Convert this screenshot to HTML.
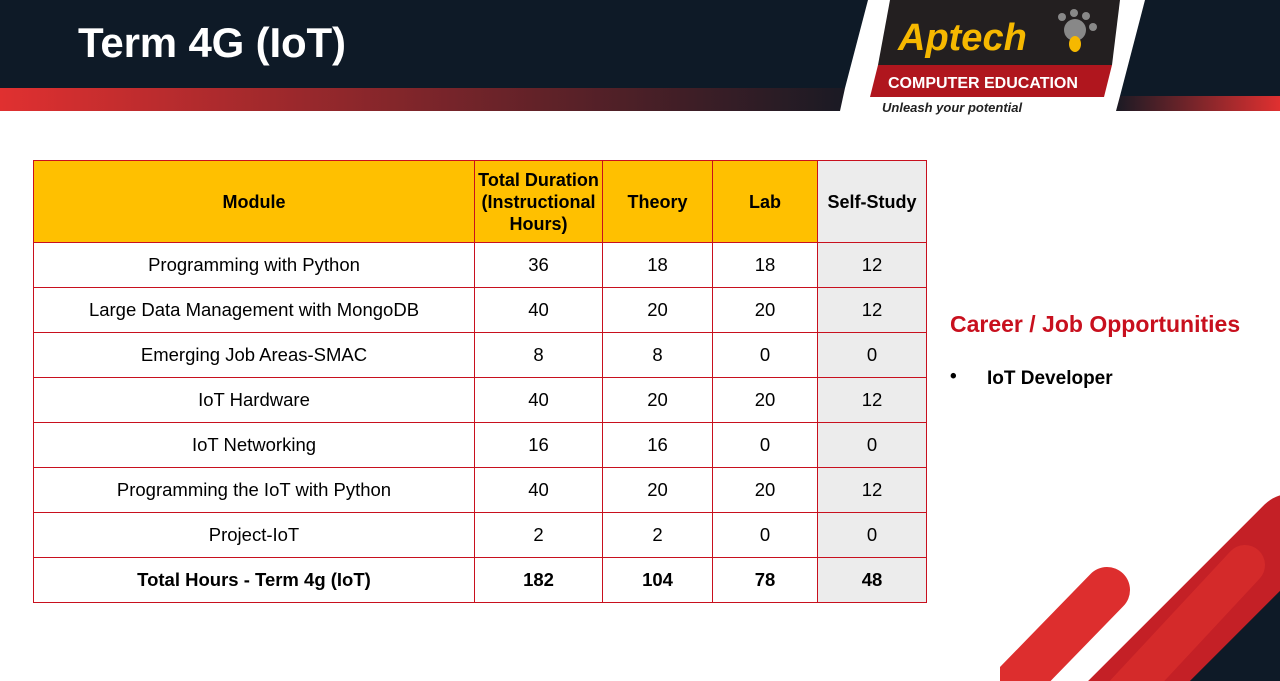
<!DOCTYPE html>
<html style="overflow:hidden"><head><meta charset="utf-8"><style>
html,body{margin:0;width:1280px;height:681px;overflow:hidden}
body{background:#fff;font-family:"Liberation Sans",sans-serif}
#wrap{position:relative;width:1280px;height:681px;overflow:hidden}
.abs{position:absolute}
svg{overflow:hidden;display:block}
table{position:absolute;left:33px;top:160px;border-collapse:collapse;font-size:18.5px;color:#000}
td,th{border:1px solid #c8101e;text-align:center;padding:0}
th{background:#ffc000;font-weight:bold;height:81px;line-height:22px;font-size:18px}
td{height:44px}
.ss{background:#ececec}
tr.tot td{font-weight:bold}
</style></head><body>
<div id="wrap">
<svg class="abs" style="left:0;top:0" width="1280" height="120">
<defs>
<linearGradient id="rg" x1="0" x2="1"><stop offset="0" stop-color="#e03030"/><stop offset="1" stop-color="#1a1a24"/></linearGradient>
<linearGradient id="rg2" x1="0" x2="1"><stop offset="0" stop-color="#1a1a24"/><stop offset="1" stop-color="#e03030"/></linearGradient>
</defs>
<polygon points="0,0 868,0 845,88 0,88" fill="#0e1a27"/>
<polygon points="0,88 845,88 840,111 0,111" fill="url(#rg)"/>
<polygon points="1145,0 1280,0 1280,96 1120,96" fill="#0e1a27"/>
<polygon points="1120,96 1280,96 1280,111 1116,111" fill="url(#rg2)"/>
<polygon points="890,0 1120,0 1112,65 878,65" fill="#231f20"/>
<polygon points="878,65 1112,65 1104,97 870,97" fill="#b0161e"/>
<text x="898" y="50" font-family="Liberation Sans" font-weight="bold" font-style="italic" font-size="38" fill="#f6b800">Aptech</text>
<circle cx="1075" cy="30" r="11" fill="#888"/><circle cx="1062" cy="17" r="4" fill="#888"/><circle cx="1074" cy="13" r="4" fill="#888"/><circle cx="1086" cy="16" r="4" fill="#888"/><circle cx="1093" cy="27" r="4" fill="#888"/>
<ellipse cx="1075" cy="44" rx="6" ry="8" fill="#f6b800"/>
<text x="888" y="88" font-family="Liberation Sans" font-weight="bold" font-size="16" fill="#fff">COMPUTER EDUCATION</text>
<text x="882" y="112" font-family="Liberation Sans" font-weight="bold" font-style="italic" font-size="13" fill="#222">Unleash your potential</text>
<text x="78" y="57" font-family="Liberation Sans" font-weight="bold" font-size="42" textLength="268" fill="#fff">Term 4G (IoT)</text>
</svg>
<table>
<tr><th style="width:440px">Module</th><th style="width:127px">Total Duration<br>(Instructional<br>Hours)</th><th style="width:109px">Theory</th><th style="width:104px">Lab</th><th class="ss" style="width:108px">Self-Study</th></tr>
<tr><td>Programming with Python</td><td>36</td><td>18</td><td>18</td><td class="ss">12</td></tr>
<tr><td>Large Data Management with MongoDB</td><td>40</td><td>20</td><td>20</td><td class="ss">12</td></tr>
<tr><td>Emerging Job Areas-SMAC</td><td>8</td><td>8</td><td>0</td><td class="ss">0</td></tr>
<tr><td>IoT Hardware</td><td>40</td><td>20</td><td>20</td><td class="ss">12</td></tr>
<tr><td>IoT Networking</td><td>16</td><td>16</td><td>0</td><td class="ss">0</td></tr>
<tr><td>Programming the IoT with Python</td><td>40</td><td>20</td><td>20</td><td class="ss">12</td></tr>
<tr><td>Project-IoT</td><td>2</td><td>2</td><td>0</td><td class="ss">0</td></tr>
<tr class="tot"><td>Total Hours - Term 4g (IoT)</td><td>182</td><td>104</td><td>78</td><td class="ss">48</td></tr>
</table>
<div class="abs" style="left:950px;top:311px;font-size:23px;font-weight:bold;color:#c8101e">Career / Job Opportunities</div>
<div class="abs" style="left:950px;top:366px;font-size:19px;font-weight:bold;color:#000">•</div>
<div class="abs" style="left:987px;top:368px;font-size:19px;font-weight:bold;color:#000">IoT Developer</div>
<svg class="abs" style="left:1000px;top:460px" width="280" height="221">
<polygon points="280,60 280,221 140,221" fill="#0e1a27"/>
<line x1="290" y1="70" x2="90" y2="270" stroke="#c42026" stroke-width="72" stroke-linecap="round"/>
<line x1="245" y1="105" x2="110" y2="250" stroke="#d42a2a" stroke-width="40" stroke-linecap="round"/>
<line x1="107" y1="130" x2="0" y2="240" stroke="#dd2e2e" stroke-width="46" stroke-linecap="round"/>
</svg>
</div>
</body></html>
